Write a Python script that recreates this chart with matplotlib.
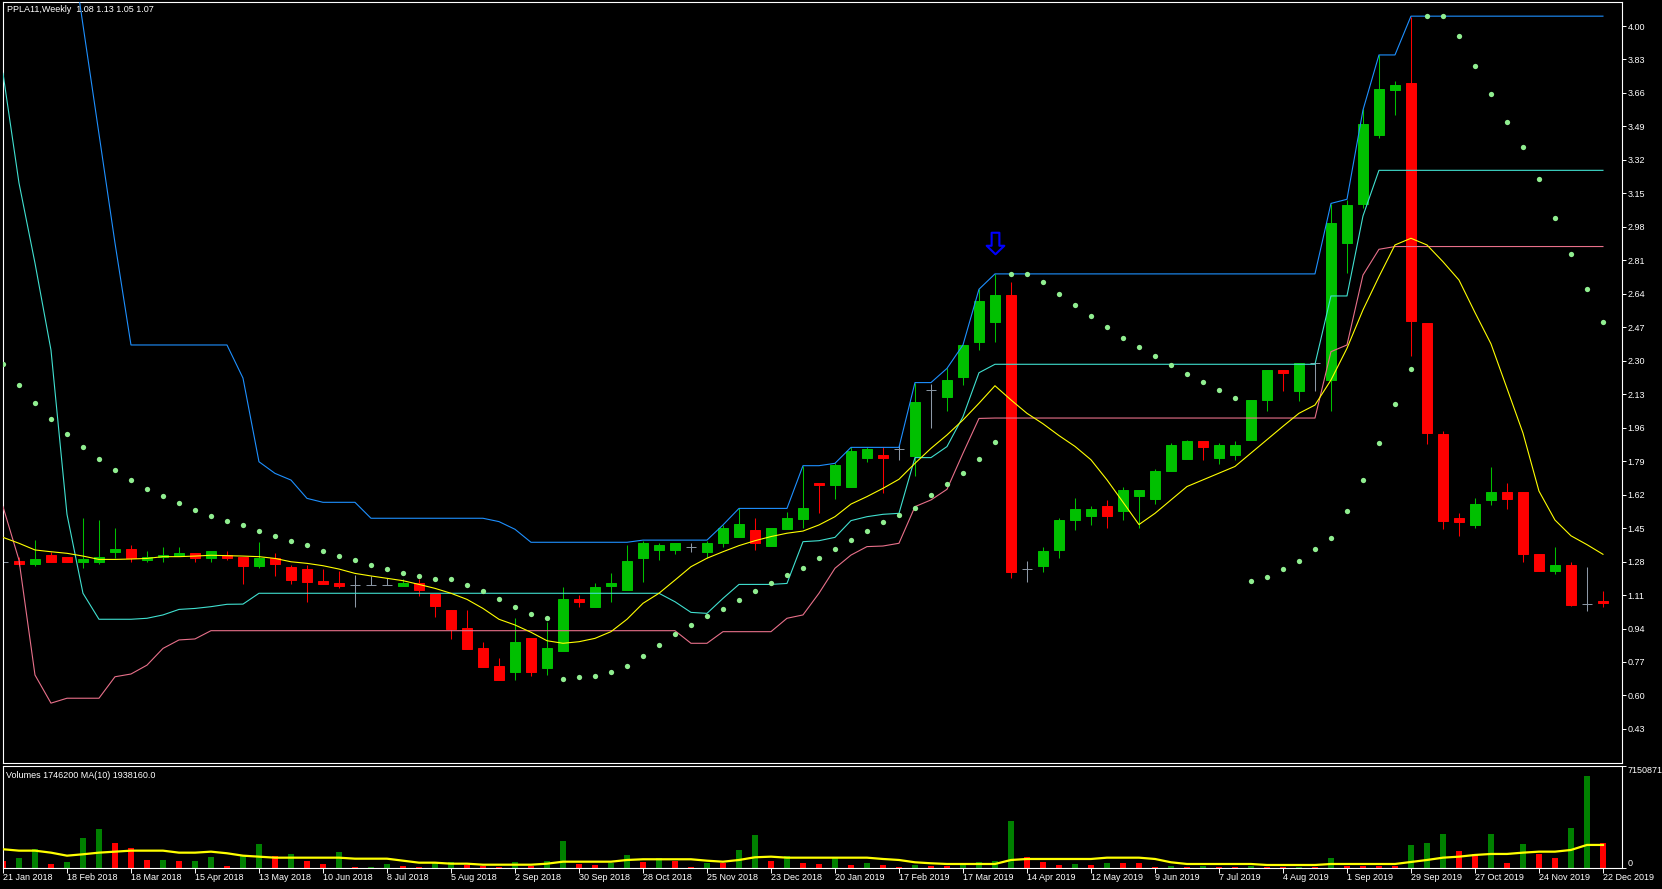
import matplotlib
matplotlib.use('Agg');
import matplotlib.pyplot as plt;
from matplotlib.path import Path;
import numpy as np;
import pandas as pd;

#PPLA11 weekly bars, 21 Jan 2018 .. 22 Dec 2019
dates = pd.date_range('2018-01-21', periods=101, freq='7D');

opens = [1.28, 1.281, 1.269, 1.313, 1.303, 1.279, 1.279, 1.330, 1.344, 1.290,
         1.303, 1.310, 1.323, 1.300, 1.313, 1.303, 1.259, 1.300, 1.252, 1.242,
         1.181, 1.171, 1.161, 1.161, 1.161, 1.158, 1.171, 1.117, 1.036, 0.943,
         0.841, 0.751, 0.721, 0.892, 0.738, 0.826, 1.090, 1.051, 1.158, 1.136,
         1.300, 1.339, 1.339, 1.352, 1.330, 1.373, 1.407, 1.440, 1.359, 1.445,
         1.496, 1.681, 1.669, 1.660, 1.808, 1.821, 1.852, 1.816, 2.151, 2.118,
         2.219, 2.397, 2.498, 2.634, 1.241, 1.258, 1.339, 1.489, 1.509, 1.563,
         1.536, 1.611, 1.600, 1.740, 1.799, 1.890, 1.808, 1.820, 1.899, 2.099,
         2.253, 2.148, 2.291, 2.200, 2.899, 3.098, 3.447, 3.676, 3.710, 2.491,
         1.926, 1.502, 1.468, 1.591, 1.634, 1.634, 1.321, 1.230, 1.262, 1.067,
         1.08];
highs = [1.28, 1.305, 1.389, 1.330, 1.303, 1.503, 1.491, 1.450, 1.364, 1.334,
         1.354, 1.354, 1.323, 1.334, 1.334, 1.303, 1.379, 1.323, 1.263, 1.263,
         1.242, 1.232, 1.212, 1.208, 1.195, 1.191, 1.191, 1.117, 1.036, 1.036,
         0.872, 0.792, 0.992, 0.892, 0.975, 1.151, 1.110, 1.170, 1.220, 1.364,
         1.386, 1.373, 1.373, 1.373, 1.386, 1.466, 1.550, 1.500, 1.449, 1.530,
         1.767, 1.681, 1.779, 1.860, 1.860, 1.860, 1.872, 2.189, 2.180, 2.261,
         2.380, 2.663, 2.741, 2.698, 1.283, 1.356, 1.500, 1.602, 1.563, 1.593,
         1.661, 1.643, 1.752, 1.881, 1.899, 1.890, 1.881, 1.892, 2.101, 2.253,
         2.253, 2.291, 2.291, 3.098, 3.116, 3.577, 3.851, 3.719, 4.048, 2.491,
         1.944, 1.525, 1.602, 1.761, 1.677, 1.634, 1.321, 1.355, 1.280, 1.253,
         1.13];
lows = [1.28, 1.259, 1.259, 1.279, 1.279, 1.249, 1.269, 1.300, 1.279, 1.279,
        1.279, 1.310, 1.279, 1.279, 1.290, 1.168, 1.249, 1.208, 1.168, 1.076,
        1.168, 1.147, 1.051, 1.161, 1.161, 1.158, 1.107, 1.000, 0.887, 0.838,
        0.746, 0.680, 0.680, 0.700, 0.704, 0.826, 1.051, 1.051, 1.076, 1.136,
        1.178, 1.288, 1.319, 1.330, 1.297, 1.352, 1.407, 1.339, 1.359, 1.445,
        1.449, 1.525, 1.598, 1.660, 1.787, 1.630, 1.796, 1.715, 1.960, 2.046,
        2.177, 2.355, 2.397, 1.198, 1.178, 1.229, 1.300, 1.439, 1.466, 1.448,
        1.491, 1.450, 1.570, 1.740, 1.799, 1.797, 1.774, 1.797, 1.899, 2.046,
        2.146, 2.096, 2.146, 2.046, 2.747, 3.076, 3.429, 3.547, 2.323, 1.876,
        1.446, 1.411, 1.448, 1.568, 1.548, 1.280, 1.230, 1.219, 1.053, 1.031,
        1.05];
closes = [1.28, 1.269, 1.293, 1.279, 1.279, 1.293, 1.303, 1.344, 1.300, 1.303,
          1.313, 1.323, 1.300, 1.334, 1.300, 1.259, 1.300, 1.269, 1.188, 1.178,
          1.168, 1.158, 1.161, 1.161, 1.161, 1.171, 1.137, 1.056, 0.938, 0.838,
          0.746, 0.680, 0.872, 0.721, 0.839, 1.090, 1.076, 1.151, 1.170, 1.283,
          1.373, 1.364, 1.373, 1.352, 1.373, 1.449, 1.471, 1.373, 1.449, 1.500,
          1.550, 1.669, 1.771, 1.841, 1.852, 1.808, 1.852, 2.090, 2.151, 2.202,
          2.380, 2.603, 2.634, 1.229, 1.241, 1.334, 1.491, 1.545, 1.545, 1.509,
          1.643, 1.643, 1.740, 1.872, 1.890, 1.860, 1.872, 1.872, 2.101, 2.253,
          2.239, 2.291, 2.291, 2.998, 3.089, 3.502, 3.681, 3.701, 2.500, 1.933,
          1.486, 1.480, 1.572, 1.634, 1.600, 1.321, 1.230, 1.262, 1.058, 1.067,
          1.07];

#indicator lines
upper = [np.nan, np.nan, np.nan, np.nan, 4.56, 4.005, 3.452, 2.898, 2.380, 2.380,
         2.380, 2.380, 2.380, 2.380, 2.380, 2.212, 1.787, 1.728, 1.694, 1.601,
         1.581, 1.581, 1.581, 1.500, 1.500, 1.500, 1.500, 1.500, 1.500, 1.500,
         1.500, 1.483, 1.444, 1.378, 1.378, 1.378, 1.378, 1.378, 1.378, 1.378,
         1.389, 1.389, 1.389, 1.389, 1.389, 1.466, 1.550, 1.550, 1.550, 1.550,
         1.767, 1.767, 1.779, 1.860, 1.860, 1.860, 1.860, 2.189, 2.189, 2.261,
         2.380, 2.663, 2.741, 2.741, 2.741, 2.741, 2.741, 2.741, 2.741, 2.741,
         2.741, 2.741, 2.741, 2.741, 2.741, 2.741, 2.741, 2.741, 2.741, 2.741,
         2.741, 2.741, 2.741, 3.099, 3.120, 3.573, 3.853, 3.853, 4.050, 4.050,
         4.050, 4.050, 4.050, 4.050, 4.050, 4.050, 4.050, 4.050, 4.050, 4.050,
         4.050];
middle = [3.760, 3.203, 2.796, 2.354, 1.520, 1.119, 0.987, 0.987, 0.987, 0.992,
          1.009, 1.037, 1.042, 1.051, 1.063, 1.064, 1.119, 1.119, 1.119, 1.119,
          1.119, 1.119, 1.119, 1.119, 1.119, 1.119, 1.119, 1.119, 1.119, 1.119,
          1.119, 1.119, 1.119, 1.119, 1.119, 1.119, 1.119, 1.119, 1.119, 1.119,
          1.119, 1.119, 1.076, 1.022, 1.017, 1.093, 1.164, 1.164, 1.164, 1.169,
          1.381, 1.386, 1.403, 1.488, 1.508, 1.520, 1.525, 1.808, 1.808, 1.864,
          2.016, 2.239, 2.282, 2.282, 2.282, 2.282, 2.282, 2.282, 2.282, 2.282,
          2.282, 2.282, 2.282, 2.282, 2.282, 2.282, 2.282, 2.282, 2.282, 2.282,
          2.282, 2.282, 2.282, 2.629, 2.629, 3.035, 3.267, 3.267, 3.267, 3.267,
          3.267, 3.267, 3.267, 3.267, 3.267, 3.267, 3.267, 3.267, 3.267, 3.267,
          3.267];
lower = [1.559, 1.288, 0.704, 0.561, 0.586, 0.586, 0.586, 0.695, 0.709, 0.754,
         0.839, 0.882, 0.887, 0.929, 0.929, 0.929, 0.929, 0.929, 0.929, 0.929,
         0.929, 0.929, 0.929, 0.929, 0.929, 0.929, 0.929, 0.929, 0.929, 0.929,
         0.929, 0.929, 0.929, 0.929, 0.929, 0.929, 0.929, 0.929, 0.929, 0.929,
         0.929, 0.929, 0.929, 0.865, 0.865, 0.924, 0.924, 0.924, 0.924, 0.992,
         1.009, 1.119, 1.246, 1.313, 1.356, 1.359, 1.373, 1.559, 1.593, 1.647,
         1.830, 2.007, 2.009, 2.009, 2.009, 2.009, 2.009, 2.009, 2.009, 2.009,
         2.009, 2.009, 2.009, 2.009, 2.009, 2.009, 2.009, 2.009, 2.009, 2.009,
         2.009, 2.009, 2.009, 2.346, 2.380, 2.735, 2.866, 2.880, 2.880, 2.880,
         2.880, 2.880, 2.880, 2.880, 2.880, 2.880, 2.880, 2.880, 2.880, 2.880,
         2.880];
ma = [1.403, 1.373, 1.339, 1.330, 1.322, 1.308, 1.291, 1.291, 1.293, 1.296,
      1.305, 1.305, 1.308, 1.312, 1.310, 1.308, 1.305, 1.296, 1.279, 1.271,
      1.259, 1.242, 1.220, 1.207, 1.195, 1.183, 1.164, 1.144, 1.119, 1.088,
      1.042, 0.987, 0.958, 0.921, 0.878, 0.865, 0.873, 0.890, 0.924, 0.987,
      1.068, 1.119, 1.186, 1.254, 1.297, 1.330, 1.361, 1.386, 1.407, 1.424,
      1.435, 1.466, 1.508, 1.572, 1.610, 1.652, 1.698, 1.779, 1.855, 1.923,
      1.999, 2.084, 2.173, 2.101, 2.033, 1.980, 1.920, 1.865, 1.797, 1.695,
      1.582, 1.468, 1.525, 1.593, 1.661, 1.695, 1.729, 1.763, 1.831, 1.899,
      1.967, 2.033, 2.075, 2.202, 2.363, 2.558, 2.727, 2.888, 2.922, 2.888,
      2.803, 2.710, 2.545, 2.386, 2.160, 1.933, 1.638, 1.491, 1.411, 1.366,
      1.317];
sar = [2.282, 2.175, 2.084, 2.002, 1.926, 1.860, 1.799, 1.743, 1.693, 1.647,
       1.611, 1.576, 1.540, 1.510, 1.484, 1.464, 1.434, 1.408, 1.383, 1.362,
       1.332, 1.307, 1.286, 1.261, 1.240, 1.220, 1.205, 1.190, 1.190, 1.159,
       1.129, 1.088, 1.048, 1.012, 0.992, 0.684, 0.692, 0.699, 0.717, 0.750,
       0.800, 0.856, 0.910, 0.958, 1.004, 1.039, 1.085, 1.131, 1.170, 1.212,
       1.246, 1.297, 1.342, 1.389, 1.435, 1.479, 1.517, 1.550, 1.618, 1.674,
       1.728, 1.799, 1.886, 2.741, 2.741, 2.698, 2.637, 2.581, 2.525, 2.470,
       2.418, 2.368, 2.323, 2.278, 2.232, 2.191, 2.151, 2.110, 1.180, 1.201,
       1.242, 1.282, 1.344, 1.398, 1.536, 1.693, 1.881, 2.080, 2.257, 4.050,
       4.050, 3.948, 3.797, 3.654, 3.515, 3.388, 3.223, 3.023, 2.842, 2.663,
       2.498];

volumes = [474000, 686000, 1301000, 262000, 403000, 2100000, 2736000, 1746000, 1393000, 544000,
           559000, 474000, 495000, 756000, 120000, 827000, 1676000, 827000, 969000, 474000,
           262000, 1110000, 49000, 64000, 262000, 120000, 49000, 332000, 403000, 191000,
           120000, 49000, 403000, 120000, 474000, 1888000, 262000, 191000, 332000, 898000,
           403000, 686000, 474000, 49000, 332000, 318000, 1251000, 2312000, 474000, 827000,
           332000, 262000, 686000, 191000, 332000, 191000, 49000, 191000, 120000, 106000,
           191000, 403000, 474000, 3302000, 756000, 403000, 191000, 262000, 191000, 332000,
           318000, 304000, 49000, 120000, 49000, 120000, 49000, 35000, 120000, 49000,
           35000, 49000, 35000, 686000, 120000, 113000, 106000, 99000, 1605000, 1746000,
           2383000, 1181000, 969000, 2383000, 332000, 1676000, 969000, 686000, 2807000, 6483000,
           1746200];
vol_ma = [1301000, 1202000, 1202000, 1061000, 848000, 947000, 1061000, 1131000, 1202000, 1202000,
          1202000, 1061000, 1061000, 1131000, 1018000, 848000, 778000, 707000, 707000, 707000,
          707000, 707000, 636000, 636000, 636000, 495000, 354000, 354000, 283000, 283000,
          212000, 212000, 212000, 212000, 283000, 424000, 424000, 424000, 424000, 544000,
          594000, 594000, 594000, 594000, 495000, 424000, 544000, 735000, 778000, 707000,
          707000, 707000, 707000, 707000, 707000, 615000, 544000, 382000, 311000, 262000,
          262000, 262000, 262000, 544000, 615000, 615000, 615000, 615000, 615000, 707000,
          707000, 707000, 615000, 382000, 262000, 262000, 262000, 262000, 262000, 191000,
          191000, 191000, 191000, 262000, 262000, 262000, 262000, 262000, 403000, 544000,
          707000, 778000, 898000, 969000, 969000, 1061000, 1131000, 1131000, 1251000, 1605000,
          1605000];
vol_top = 7150871;

#down arrow signal
signal_bars = [62];
signal_prices = [2.90];

price_ticks = [4.00, 3.83, 3.66, 3.49, 3.32, 3.15, 2.98, 2.81, 2.64, 2.47, 2.30,
               2.13, 1.96, 1.79, 1.62, 1.45, 1.28, 1.11, 0.94, 0.77, 0.60, 0.43];

plt.rcParams['font.family'] = ['Liberation Sans', 'DejaVu Sans'];
FS = 6.5;
W, H = 1662, 889;

o = np.array(opens); h = np.array(highs); l = np.array(lows); c = np.array(closes);
x = np.arange(len(dates));
cols = np.where(c > o, '#00C000', np.where(c < o, '#FF0000', '#8C98A6'));

fig = plt.figure(figsize=(W/100, H/100), dpi=100, facecolor='black');
ax = fig.add_axes([2.5/W, 1-763.3/H, (1622-2.5)/W, (763.3-2.3)/H], facecolor='black');
vax = fig.add_axes([2.5/W, 1-867.7/H, (1622-2.5)/W, (867.7-766.3)/H], facecolor='black');

#candles
ax.vlines(x, l, h, colors=cols, lw=0.75, zorder=2);
ax.bar(x, np.abs(c-o), bottom=np.minimum(o, c), width=0.62, color=cols,
       edgecolor=cols, linewidth=0.7, zorder=2);

#lines
ax.plot(x, upper, color='#1E90FF', lw=0.8, zorder=3);
ax.plot(x, middle, color='#40E0D0', lw=0.8, zorder=3);
ax.plot(x, lower, color='#E8708A', lw=0.8, zorder=3);
ax.plot(x, ma, color='#FFFF00', lw=0.8, zorder=3);
ax.plot(x, sar, ls='none', marker='o', ms=3.8, mfc='#90EE90', mec='#90EE90',
        mew=0, zorder=4);

arrow = Path([(-0.18, 0.5), (0.18, 0.5), (0.18, -0.105), (0.41, -0.105), (0, -0.5),
              (-0.41, -0.105), (-0.18, -0.105), (-0.18, 0.5)],
             [Path.MOVETO] + [Path.LINETO]*6 + [Path.CLOSEPOLY]);
ax.plot(signal_bars, signal_prices, ls='none', marker=arrow, ms=15.5, mfc='none',
        mec='#0000FF', mew=1.5, zorder=5);

ax.set_xlim(-0.03, 101.19);
ax.set_ylim(0.2555, 4.1204);
ax.yaxis.tick_right();
ax.set_yticks(price_ticks);
ax.set_yticklabels(['%.2f' % t for t in price_ticks]);
ax.tick_params(axis='y', colors='white', direction='out', length=3.2, width=0.7,
               pad=0.8, labelsize=FS);
ax.tick_params(axis='x', bottom=False, labelbottom=False);

#volumes
vcols = ['#FF0000'] + ['#008000' if volumes[i] > volumes[i-1] else '#FF0000'
                       for i in range(1, len(volumes))];
vax.bar(x, volumes, width=0.36, color=vcols, linewidth=0, zorder=2);
vax.plot(x, vol_ma, color='#FFFF00', lw=1.6, zorder=3);
vax.set_xlim(-0.03, 101.19);
vax.set_ylim(0, vol_top);
vax.yaxis.tick_right();
vax.set_yticks([0, vol_top]);
vax.set_yticklabels(['0', str(vol_top)]);
vax.get_yticklabels()[0].set_va('bottom');
vax.get_yticklabels()[1].set_va('top');
vax.tick_params(axis='y', colors='white', direction='out', length=3.2, width=0.7,
                pad=0.8, labelsize=FS);
tick_idx = list(range(0, len(dates), 4));
vax.set_xticks(tick_idx);
vax.set_xticklabels(['%d %s' % (dates[i].day, dates[i].strftime('%b %Y')) for i in tick_idx]);
for t in vax.get_xticklabels():
    t.set_ha('left');
vax.tick_params(axis='x', colors='white', direction='out', length=3.6, width=0.7,
                pad=0.3, labelsize=FS);

for a in (ax, vax):
    for s in a.spines.values():
        s.set_color('white');
        s.set_linewidth(0.8);

fig.text(6.7/W, 1-10/H, 'PPLA11,Weekly  1.08 1.13 1.05 1.07', color='white',
         fontsize=FS, va='center', ha='left');
fig.text(6.4/W, 1-775.7/H, 'Volumes 1746200 MA(10) 1938160.0', color='white',
         fontsize=FS, va='center', ha='left');

fig.savefig('out.png', dpi=100, facecolor='black');
